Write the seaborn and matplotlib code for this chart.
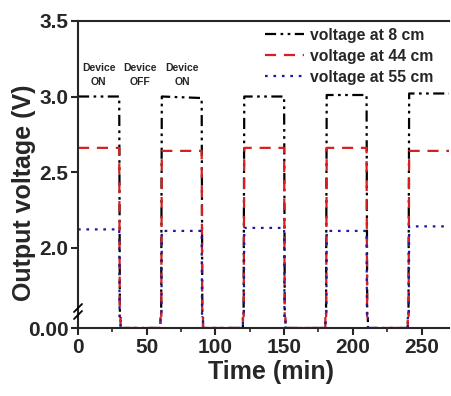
import pandas as pd
import matplotlib.pyplot as plt
import seaborn as sns
from matplotlib.ticker import MultipleLocator, FixedLocator

sns.set_style("ticks")
plt.rcParams['font.family'] = ['Liberation Sans', 'DejaVu Sans']
plt.rcParams['font.weight'] = 'bold'

# time points of the on/off cycles (min)
time = [0, 30, 31, 60, 61, 90, 91, 120, 121, 150, 151, 180, 181, 210, 211, 240, 241, 270]
v_8cm = [3.00, 3.00, 0, 0, 3.00, 2.99, 0, 0, 3.00, 3.00, 0, 0, 3.01, 3.01, 0, 0, 3.02, 3.02]
v_44cm = [2.66, 2.66, 0, 0, 2.64, 2.64, 0, 0, 2.66, 2.66, 0, 0, 2.66, 2.66, 0, 0, 2.64, 2.64]
v_55cm = [2.12, 2.12, 0, 0, 2.11, 2.11, 0, 0, 2.13, 2.13, 0, 0, 2.11, 2.11, 0, 0, 2.14, 2.14]
labels = ["voltage at 8 cm", "voltage at 44 cm", "voltage at 55 cm"]

df = pd.concat([
    pd.DataFrame({"time": time, "voltage": v, "series": lab})
    for v, lab in zip([v_8cm, v_44cm, v_55cm], labels)
])

palette = {labels[0]: "black", labels[1]: "#d42020", labels[2]: "#1a1a9c"}
dashes = {labels[0]: (5, 2, 1.2, 2, 1.2, 2), labels[1]: (5, 3.5), labels[2]: (1.2, 2.6)}

fig = plt.figure(figsize=(4.51, 3.96), dpi=100)
left, right = 78 / 451, 449 / 451
ax = fig.add_axes([left, 1 - 317 / 396, right - left, (317 - 21) / 396])
ax0 = fig.add_axes([left, 1 - 328 / 396, right - left, 11 / 396], sharex=ax)

for a, leg in [(ax, True), (ax0, False)]:
    sns.lineplot(data=df, x="time", y="voltage", hue="series", style="series",
                 palette=palette, dashes=dashes, estimator=None, sort=False,
                 linewidth=1.6, legend=leg, ax=a)

ax.set_xlim(0, 270)
ax.set_ylim(1.54, 3.5)
ax0.set_ylim(0, 0.1)

ax.spines['bottom'].set_visible(False)
ax.spines['right'].set_visible(False)
ax0.spines['top'].set_visible(False)
ax0.spines['right'].set_visible(False)
for a in (ax, ax0):
    a.spines['left'].set_linewidth(1.5)
    a.spines['top'].set_linewidth(1.5)
    a.spines['bottom'].set_linewidth(1.5)

ax.yaxis.set_major_locator(MultipleLocator(0.5))
ax.yaxis.set_major_formatter(plt.FormatStrFormatter('%.1f'))
ax.tick_params(axis='x', bottom=False, labelbottom=False)
ax.tick_params(axis='y', labelsize=15, width=1.5, length=5, pad=2)
ax.set_xlabel("")
ax.set_ylabel("Output voltage (V)", fontsize=18, fontweight='bold')
ax.yaxis.set_label_coords(-0.112, 0.42)

ax0.yaxis.set_major_locator(FixedLocator([0]))
ax0.yaxis.set_major_formatter(plt.FormatStrFormatter('%.2f'))
ax0.xaxis.set_major_locator(MultipleLocator(50))
ax0.xaxis.set_minor_locator(MultipleLocator(25))
ax0.tick_params(axis='both', which='major', labelsize=15, width=1.5, length=5, pad=2)
ax0.tick_params(axis='x', which='minor', width=1.2, length=3)
ax0.set_ylabel("")
ax0.set_xlabel("Time (min)", fontsize=18, fontweight='bold')
ax0.xaxis.set_label_coords(0.52, -2.9)
ax0.xaxis.label.set_verticalalignment('top')

# axis break marks on the left spine
for dy in (0.0, 7 / 396):
    y0 = 1 - 319 / 396 + dy
    fig.add_artist(plt.Line2D([left - 4 / 451, left + 4 / 451], [y0, y0 + 8 / 396],
                              transform=fig.transFigure, color='black', lw=1.3))

for x, txt in [(15, "Device\nON"), (45, "Device\nOFF"), (76, "Device\nON")]:
    ax.text(x, 3.14, txt, ha='center', va='center', fontsize=7.5,
            fontweight='bold', linespacing=1.5)

ax.legend(title=None, loc='upper right', frameon=False,
          handlelength=2.5, handletextpad=0.35, labelspacing=0.38,
          bbox_to_anchor=(0.995, 1.025), prop={'weight': 'bold', 'size': 11.3})

fig.savefig("out.png", dpi=100)
